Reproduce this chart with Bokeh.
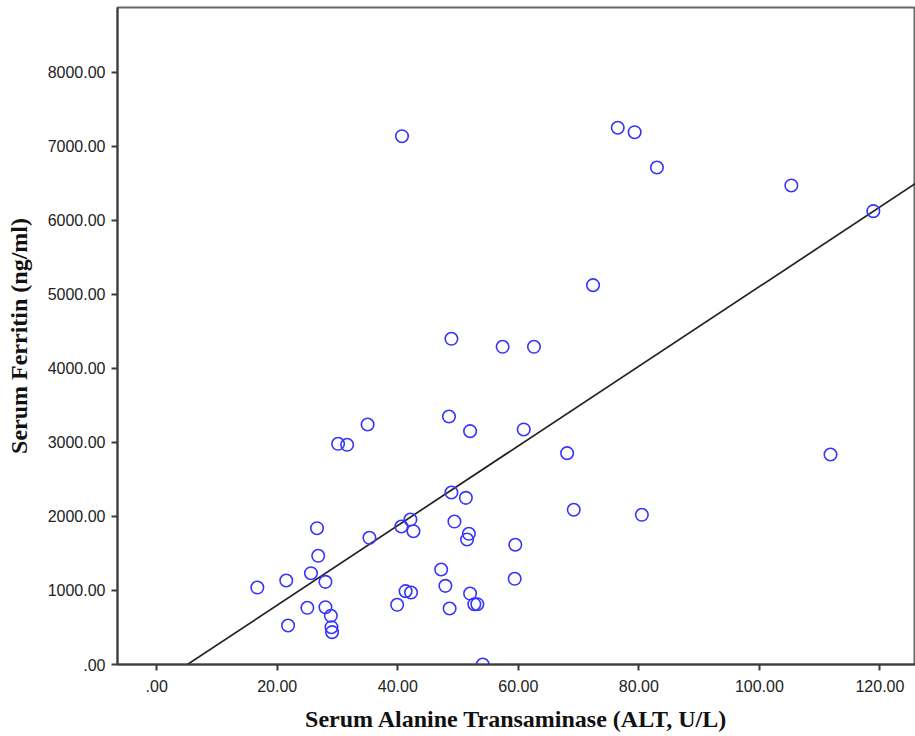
from bokeh.plotting import figure
from bokeh.models import Range1d, FixedTicker
from bokeh.embed import file_html
from bokeh.resources import INLINE

# ---- data ----
alt = [16.7, 21.5, 21.8, 26.6, 26.8, 25.6, 28.0, 25.0, 28.0, 28.9, 29.0, 29.1,
       35.3, 39.9, 40.6, 42.1, 42.6, 49.4, 51.3, 51.8, 51.5, 59.5, 47.2, 47.9,
       41.3, 42.2, 48.6, 52.0, 52.7, 53.2, 59.4, 54.1, 30.1, 31.6, 35.0, 48.5,
       52.0, 60.9, 68.1, 48.9, 40.7, 76.5, 79.3, 83.0, 72.4, 48.9, 57.4, 62.6,
       69.2, 80.5, 105.3, 118.9, 111.8]
ferritin = [1040, 1135, 527, 1842, 1469, 1234, 1117, 766, 774, 658, 504, 437,
            1712, 807, 1865, 1959, 1801, 1932, 2252, 1766, 1689, 1618, 1284, 1063,
            991, 973, 757, 959, 815, 815, 1158, 0, 2982, 2969, 3243, 3351,
            3153, 3176, 2856, 2324, 7139, 7253, 7193, 6716, 5126, 4401, 4293, 4293,
            2091, 2023, 6473, 6126, 2838]

fit_slope = 53.8
fit_intercept = -274.0

x_ticks = [0, 20, 40, 60, 80, 100, 120]
x_tick_labels = [".00", "20.00", "40.00", "60.00", "80.00", "100.00", "120.00"]
y_ticks = [0, 1000, 2000, 3000, 4000, 5000, 6000, 7000, 8000]
y_tick_labels = [".00", "1000.00", "2000.00", "3000.00", "4000.00", "5000.00",
                 "6000.00", "7000.00", "8000.00"]

x_title = "Serum Alanine Transaminase (ALT, U/L)"
y_title = "Serum Ferritin (ng/ml)"

# ---- figure ----
x_lo, x_hi = -6.5, 125.9
y_lo, y_hi = 0, 8878

p = figure(width=915, height=734, output_backend="svg", toolbar_location=None,
           x_range=Range1d(x_lo, x_hi), y_range=Range1d(y_lo, y_hi),
           min_border_left=117, min_border_right=0, min_border_top=7,
           min_border_bottom=10)

p.background_fill_color = "white"
p.border_fill_color = "white"
p.outline_line_color = "#666666"
p.outline_line_width = 2
p.xgrid.visible = False
p.ygrid.visible = False

# regression line
fx = [x_lo, x_hi]
fy = [fit_slope * v + fit_intercept for v in fx]
p.line(fx, fy, line_color="#222222", line_width=1.7)

# points
p.scatter(alt, ferritin, marker="circle", size=12.5, fill_color=None,
          line_color="#3535ff", line_width=1.6)

for ax, ticks, labels in ((p.xaxis[0], x_ticks, x_tick_labels),
                          (p.yaxis[0], y_ticks, y_tick_labels)):
    ax.ticker = FixedTicker(ticks=ticks)
    ax.major_label_overrides = {t: l for t, l in zip(ticks, labels)}
    ax.minor_tick_line_color = None
    ax.major_tick_in = 0
    ax.major_tick_out = 6
    ax.major_tick_line_color = "#3c3c3c"
    ax.major_tick_line_width = 2
    ax.axis_line_color = "#3c3c3c"
    ax.axis_line_width = 2
    ax.major_label_text_font = "Liberation Sans"
    ax.major_label_text_font_size = "16px"
    ax.major_label_text_color = "#222222"
    ax.axis_label_text_font = "Liberation Serif"
    ax.axis_label_text_font_style = "bold"
    ax.axis_label_text_font_size = "24px"
    ax.axis_label_text_color = "#111111"

p.xaxis[0].axis_label = x_title
p.yaxis[0].axis_label = y_title
p.xaxis[0].major_label_standoff = 9
p.yaxis[0].major_label_standoff = 6
p.xaxis[0].axis_label_standoff = 11
p.yaxis[0].axis_label_standoff = 13

open("out.html", "w").write(file_html(p, INLINE))
